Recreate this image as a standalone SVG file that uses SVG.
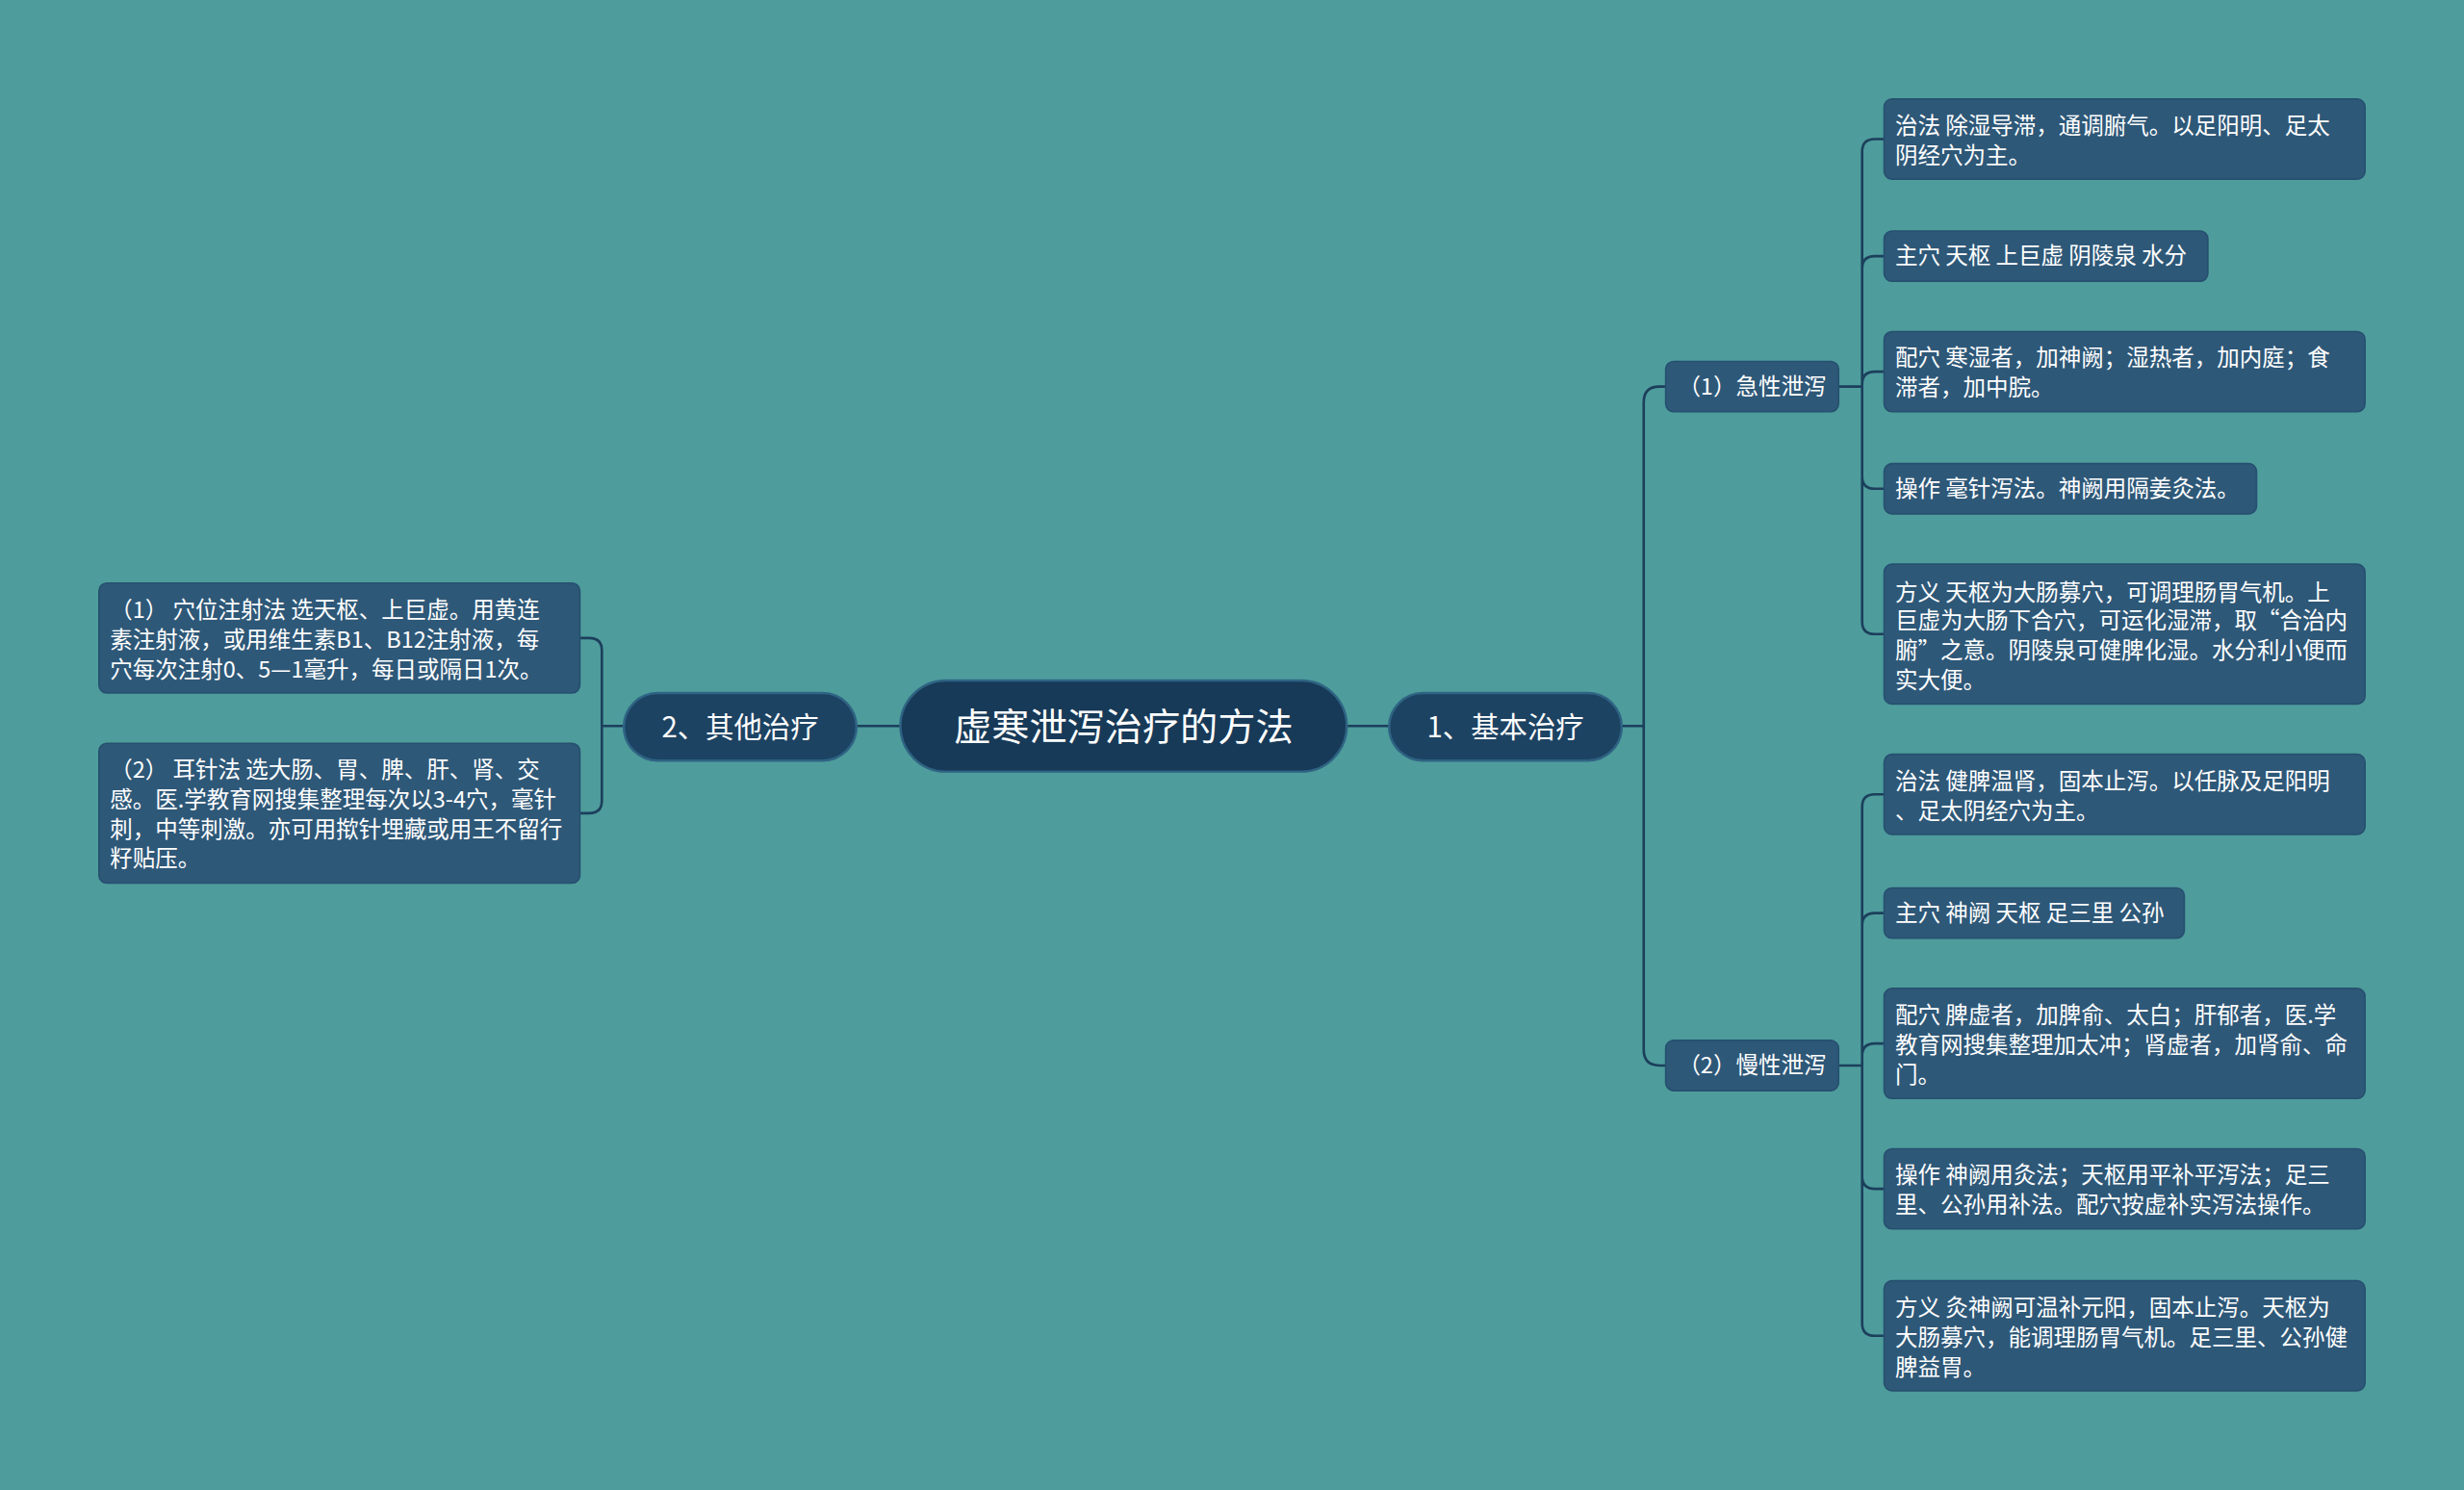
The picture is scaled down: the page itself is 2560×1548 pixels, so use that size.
<svg xmlns="http://www.w3.org/2000/svg" width="2560" height="1548" viewBox="0 0 2560 1548">
<style>
.bg{fill:#4e9c9c}
.leaf{fill:#2e5878;stroke:#26506f;stroke-width:1}
.l1{fill:#1d4363;stroke:#2f6383;stroke-width:1.5}
.t{font-family:"Noto Sans CJK SC","Liberation Sans",sans-serif;fill:#ffffff}
.s{font-size:14.4px}
.c{fill:none;stroke:#1c3f5c;stroke-width:1.6}
</style>
<rect class="bg" width="2560" height="1548"/>
<g transform="scale(1.63265)">
<g id="connectors">
<path class="c" d="M857,462 H884 M545,462 H573"/>
<path class="c" d="M1032,462 H1046 M1046,462 V256 Q1046,246 1056,246 H1060 M1046,462 V668 Q1046,678 1056,678 H1060"/>
<path class="c" d="M1170,246 H1185 M1185,246 V96.5 Q1185,88.5 1193,88.5 H1199 M1185,246 V171 Q1185,163 1193,163 H1199 M1185,246 V244.5 Q1185,236.5 1193,236.5 H1199 M1185,246 V303 Q1185,311 1193,311 H1199 M1185,246 V395.5 Q1185,403.5 1193,403.5 H1199"/>
<path class="c" d="M1170,678 H1185 M1185,678 V513.5 Q1185,505.5 1193,505.5 H1199 M1185,678 V589 Q1185,581 1193,581 H1199 M1185,678 V672 Q1185,664 1193,664 H1199 M1185,678 V748.5 Q1185,756.5 1193,756.5 H1199 M1185,678 V842 Q1185,850 1193,850 H1199"/>
<path class="c" d="M397,462 H383 M383,462 V414 Q383,406 375,406 H369 M383,462 V509.5 Q383,517.5 375,517.5 H369"/>
</g>
<g id="root"><rect x="573" y="433" width="284" height="58" rx="29" fill="#173a58" stroke="#2f6383" stroke-width="1.5"/><text class="t" x="715" y="471" font-size="24" text-anchor="middle">虚寒泄泻治疗的方法</text></g>
<g id="n1"><rect class="l1" x="884" y="441" width="148" height="43" rx="21.5"/><text class="t" x="958" y="469" font-size="18" text-anchor="middle">1、基本治疗</text></g>
<g id="n2"><rect class="l1" x="397" y="441" width="148" height="43" rx="21.5"/><text class="t" x="471" y="469" font-size="18" text-anchor="middle">2、其他治疗</text></g>
<g id="n11"><rect class="leaf" x="1060" y="230" width="110" height="32" rx="5"/><text class="t s" x="1115" y="251" text-anchor="middle">（1）急性泄泻</text></g>
<g id="n12"><rect class="leaf" x="1060" y="662" width="110" height="32" rx="5"/><text class="t s" x="1115" y="683" text-anchor="middle">（2）慢性泄泻</text></g>
<g id="a1"><rect class="leaf" x="1199" y="63" width="306" height="51" rx="5"/><text class="t s" x="1206" y="85">治法 除湿导滞，通调腑气。以足阳明、足太</text><text class="t s" x="1206" y="104">阴经穴为主。</text></g>
<g id="a2"><rect class="leaf" x="1199" y="147" width="206" height="32" rx="5"/><text class="t s" x="1206" y="168">主穴 天枢 上巨虚 阴陵泉 水分</text></g>
<g id="a3"><rect class="leaf" x="1199" y="211" width="306" height="51" rx="5"/><text class="t s" x="1206" y="233">配穴 寒湿者，加神阙；湿热者，加内庭；食</text><text class="t s" x="1206" y="252">滞者，加中脘。</text></g>
<g id="a4"><rect class="leaf" x="1199" y="295" width="237" height="32" rx="5"/><text class="t s" x="1206" y="316">操作 毫针泻法。神阙用隔姜灸法。</text></g>
<g id="a5"><rect class="leaf" x="1199" y="359" width="306" height="89" rx="5"/><text class="t s" x="1206" y="382">方义 天枢为大肠募穴，可调理肠胃气机。上</text><text class="t s" x="1206" y="400">巨虚为大肠下合穴，可运化湿滞，取“合治内</text><text class="t s" x="1206" y="419">腑”之意。阴陵泉可健脾化湿。水分利小便而</text><text class="t s" x="1206" y="438">实大便。</text></g>
<g id="b1"><rect class="leaf" x="1199" y="480" width="306" height="51" rx="5"/><text class="t s" x="1206" y="502">治法 健脾温肾，固本止泻。以任脉及足阳明</text><text class="t s" x="1206" y="521">、足太阴经穴为主。</text></g>
<g id="b2"><rect class="leaf" x="1199" y="565" width="191" height="32" rx="5"/><text class="t s" x="1206" y="586">主穴 神阙 天枢 足三里 公孙</text></g>
<g id="b3"><rect class="leaf" x="1199" y="629" width="306" height="70" rx="5"/><text class="t s" x="1206" y="651">配穴 脾虚者，加脾俞、太白；肝郁者，医.学</text><text class="t s" x="1206" y="670">教育网搜集整理加太冲；肾虚者，加肾俞、命</text><text class="t s" x="1206" y="689">门。</text></g>
<g id="b4"><rect class="leaf" x="1199" y="731" width="306" height="51" rx="5"/><text class="t s" x="1206" y="753">操作 神阙用灸法；天枢用平补平泻法；足三</text><text class="t s" x="1206" y="772">里、公孙用补法。配穴按虚补实泻法操作。</text></g>
<g id="b5"><rect class="leaf" x="1199" y="815" width="306" height="70" rx="5"/><text class="t s" x="1206" y="837">方义 灸神阙可温补元阳，固本止泻。天枢为</text><text class="t s" x="1206" y="856">大肠募穴，能调理肠胃气机。足三里、公孙健</text><text class="t s" x="1206" y="875">脾益胃。</text></g>
<g id="c1"><rect class="leaf" x="63" y="371" width="306" height="70" rx="5"/><text class="t s" x="70" y="393">（1） 穴位注射法 选天枢、上巨虚。用黄连</text><text class="t s" x="70" y="412">素注射液，或用维生素B1、B12注射液，每</text><text class="t s" x="70" y="431">穴每次注射0、5—1毫升，每日或隔日1次。</text></g>
<g id="c2"><rect class="leaf" x="63" y="473" width="306" height="89" rx="5"/><text class="t s" x="70" y="495">（2） 耳针法 选大肠、胃、脾、肝、肾、交</text><text class="t s" x="70" y="514">感。医.学教育网搜集整理每次以3-4穴，毫针</text><text class="t s" x="70" y="533">刺，中等刺激。亦可用揿针埋藏或用王不留行</text><text class="t s" x="70" y="551">籽贴压。</text></g>
</g>
</svg>
